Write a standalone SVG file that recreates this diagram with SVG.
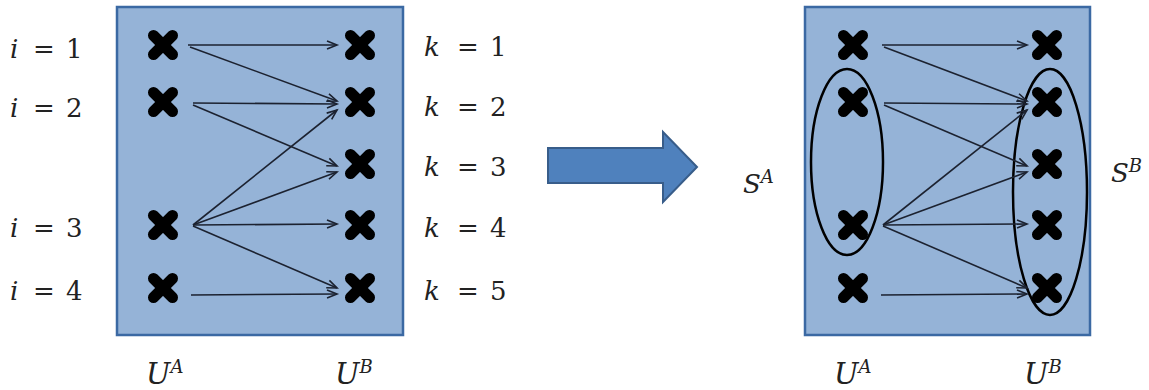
<svg xmlns="http://www.w3.org/2000/svg" xmlns:xlink="http://www.w3.org/1999/xlink" width="1149" height="390" viewBox="0 0 1149 390">
<style>
.box{fill:#95b3d7;stroke:#3b69a3;stroke-width:2.5}
.cross{stroke:#000;stroke-width:11;stroke-linecap:round}
.edge{stroke:#1c2230;stroke-width:1.6;fill:none;marker-end:url(#ah)}
.lbl{font-family:"DejaVu Serif","Liberation Serif",serif;font-size:26px;fill:#222}
.var{font-style:italic}
.sup{font-size:18px;font-style:italic}
.ell{fill:none;stroke:#000;stroke-width:2.5}
.big{fill:#4f81bd;stroke:#385d8a;stroke-width:2}
</style>
<defs>
<marker id="ah" markerWidth="14" markerHeight="12" refX="11" refY="5" orient="auto" markerUnits="userSpaceOnUse">
<path d="M1,1 L11,5 L1,9" fill="none" stroke="#1c2230" stroke-width="1.6"/>
</marker>
<g id="x"><line class="cross" x1="-9.5" y1="-9.5" x2="9.5" y2="9.5"/><line class="cross" x1="-9.5" y1="9.5" x2="9.5" y2="-9.5"/></g>
</defs>

<g id="left-box"><rect class="box" x="117" y="7" width="286" height="328"/></g>
<g id="right-box"><rect class="box" x="805" y="7" width="285" height="328"/></g>

<g id="ellipses">
<ellipse id="SA-ellipse" class="ell" cx="847" cy="162" rx="36" ry="93"/>
<ellipse id="SB-ellipse" class="ell" cx="1050" cy="192" rx="37" ry="123"/>
</g>

<g id="big-arrow"><polygon class="big" points="548,148 663,148 663,132 697,167 663,202 663,183 548,183"/></g>

<g id="connectors">
<line class="edge" x1="188" y1="45" x2="337" y2="45"/>
<line class="edge" x1="190" y1="47" x2="337" y2="101"/>
<line class="edge" x1="193" y1="103" x2="337" y2="104"/>
<line class="edge" x1="193" y1="105" x2="337" y2="166"/>
<line class="edge" x1="193" y1="225" x2="337" y2="110"/>
<line class="edge" x1="193" y1="225" x2="337" y2="172"/>
<line class="edge" x1="193" y1="225" x2="337" y2="224"/>
<line class="edge" x1="193" y1="226" x2="337" y2="288"/>
<line class="edge" x1="191" y1="295" x2="337" y2="294"/>

<line class="edge" x1="882" y1="45" x2="1027" y2="45"/>
<line class="edge" x1="884" y1="47" x2="1027" y2="101"/>
<line class="edge" x1="884" y1="103" x2="1027" y2="104"/>
<line class="edge" x1="884" y1="105" x2="1027" y2="166"/>
<line class="edge" x1="883" y1="225" x2="1027" y2="110"/>
<line class="edge" x1="883" y1="225" x2="1027" y2="172"/>
<line class="edge" x1="883" y1="225" x2="1027" y2="224"/>
<line class="edge" x1="883" y1="226" x2="1027" y2="288"/>
<line class="edge" x1="881" y1="295" x2="1027" y2="294"/>
</g>

<g id="L-A1"><use xlink:href="#x" href="#x" x="163" y="45"/></g>
<g id="L-A2"><use xlink:href="#x" href="#x" x="163" y="102"/></g>
<g id="L-A3"><use xlink:href="#x" href="#x" x="163" y="225"/></g>
<g id="L-A4"><use xlink:href="#x" href="#x" x="163" y="288"/></g>
<g id="L-B1"><use xlink:href="#x" href="#x" x="360" y="45"/></g>
<g id="L-B2"><use xlink:href="#x" href="#x" x="360" y="102"/></g>
<g id="L-B3"><use xlink:href="#x" href="#x" x="360" y="164"/></g>
<g id="L-B4"><use xlink:href="#x" href="#x" x="360" y="225"/></g>
<g id="L-B5"><use xlink:href="#x" href="#x" x="360" y="288"/></g>

<g id="R-A1"><use xlink:href="#x" href="#x" x="853" y="45"/></g>
<g id="R-A2"><use xlink:href="#x" href="#x" x="853" y="102"/></g>
<g id="R-A3"><use xlink:href="#x" href="#x" x="853" y="225"/></g>
<g id="R-A4"><use xlink:href="#x" href="#x" x="853" y="288"/></g>
<g id="R-B1"><use xlink:href="#x" href="#x" x="1047" y="45"/></g>
<g id="R-B2"><use xlink:href="#x" href="#x" x="1047" y="102"/></g>
<g id="R-B3"><use xlink:href="#x" href="#x" x="1047" y="164"/></g>
<g id="R-B4"><use xlink:href="#x" href="#x" x="1047" y="225"/></g>
<g id="R-B5"><use xlink:href="#x" href="#x" x="1047" y="288"/></g>

<g id="i-labels" class="lbl">
<text y="58"><tspan class="var" x="10">i</tspan><tspan x="33">=</tspan><tspan x="66">1</tspan></text>
<text y="117"><tspan class="var" x="10">i</tspan><tspan x="33">=</tspan><tspan x="66">2</tspan></text>
<text y="237"><tspan class="var" x="10">i</tspan><tspan x="33">=</tspan><tspan x="66">3</tspan></text>
<text y="300"><tspan class="var" x="10">i</tspan><tspan x="33">=</tspan><tspan x="66">4</tspan></text>
</g>
<g id="k-labels" class="lbl">
<text y="56"><tspan class="var" x="424">k</tspan><tspan x="457">=</tspan><tspan x="490">1</tspan></text>
<text y="116"><tspan class="var" x="424">k</tspan><tspan x="457">=</tspan><tspan x="490">2</tspan></text>
<text y="176"><tspan class="var" x="424">k</tspan><tspan x="457">=</tspan><tspan x="490">3</tspan></text>
<text y="237"><tspan class="var" x="424">k</tspan><tspan x="457">=</tspan><tspan x="490">4</tspan></text>
<text y="300"><tspan class="var" x="424">k</tspan><tspan x="457">=</tspan><tspan x="490">5</tspan></text>
</g>

<g id="UA-left" class="lbl"><text x="146" y="384"><tspan class="var" font-size="29">U</tspan><tspan class="sup" dy="-11">A</tspan></text></g>
<g id="UB-left" class="lbl"><text x="335" y="384"><tspan class="var" font-size="29">U</tspan><tspan class="sup" dy="-11">B</tspan></text></g>
<g id="UA-right" class="lbl"><text x="834" y="384"><tspan class="var" font-size="29">U</tspan><tspan class="sup" dy="-11">A</tspan></text></g>
<g id="UB-right" class="lbl"><text x="1024" y="384"><tspan class="var" font-size="29">U</tspan><tspan class="sup" dy="-11">B</tspan></text></g>
<g id="SA-label" class="lbl"><text x="743" y="193"><tspan class="var">S</tspan><tspan class="sup" dy="-10">A</tspan></text></g>
<g id="SB-label" class="lbl"><text x="1111" y="182"><tspan class="var">S</tspan><tspan class="sup" dy="-10">B</tspan></text></g>
</svg>
